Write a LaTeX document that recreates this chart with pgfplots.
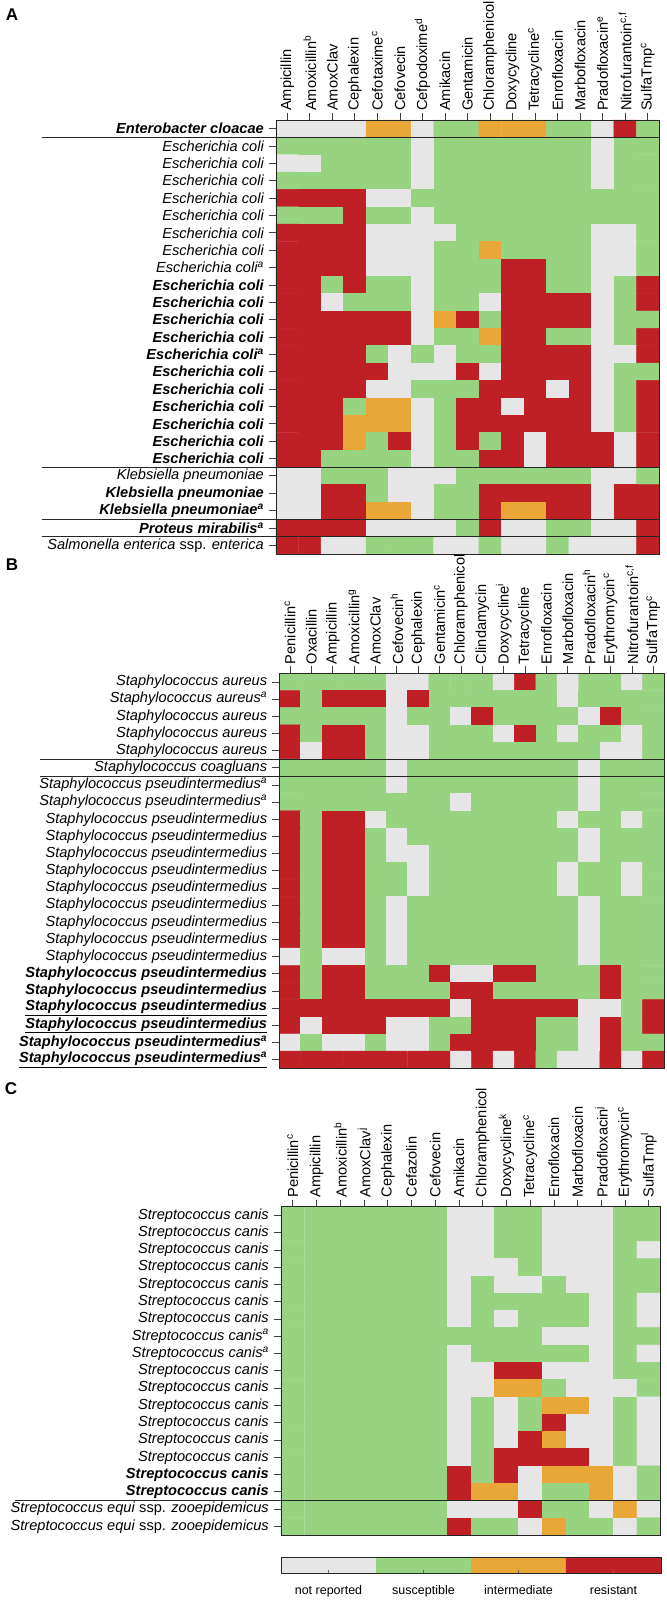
\documentclass[border=0pt]{standalone}
\usepackage{fontspec}
\setmainfont{Liberation Sans}
\usepackage{pgfplots}
\pgfplotsset{compat=1.18}
\newcommand{\Ec}{Escherichia coli}
\newcommand{\Kp}{Klebsiella pneumoniae}
\newcommand{\Sa}{Staphylococcus aureus}
\newcommand{\Sp}{Staphylococcus pseudintermedius}
\newcommand{\Sc}{Streptococcus canis}
\newcommand{\Se}{Streptococcus equi \textup{ssp.} zooepidemicus}
\newcommand{\sps}[1]{\textsuperscript{#1}}
\pgfplotsset{
  colormap={rsi}{rgb255(0cm)=(230,230,230) rgb255(1cm)=(152,211,130) rgb255(2cm)=(233,168,56) rgb255(3cm)=(190,32,38)},
  heat/.style={
    scale only axis, axis on top, enlargelimits=false, y dir=reverse, clip=false,
    anchor=north west,
    point meta min=0, point meta max=3, colormap name=rsi,
    xtick pos=right, xticklabel pos=right, ytick pos=left, yticklabel pos=left,
    tick align=outside,
    major tick length=7bp,
    tick style={line width=0.8bp, black!75},
    axis line style={line width=0.8bp, black!85},
    xticklabel style={rotate=90, anchor=west, font=\fontsize{14.6bp}{16bp}\selectfont, inner sep=1bp},
    yticklabel style={font=\fontsize{14.6bp}{16bp}\selectfont\itshape, inner sep=1bp},
    xticklabel shift=1bp, yticklabel shift=4bp,
  },
  sep/.style={forget plot, line width=0.8bp, black!85},
}
\begin{document}
\begin{tikzpicture}
\path[use as bounding box] (0,0) rectangle (667bp,-1600bp);
\node[font=\fontsize{17bp}{17bp}\selectfont\bfseries] at (12bp,-15bp) {A};
\node[font=\fontsize{17bp}{17bp}\selectfont\bfseries] at (12bp,-565bp) {B};
\node[font=\fontsize{17bp}{17bp}\selectfont\bfseries] at (11bp,-1089bp) {C};

% ---------------- Panel A ----------------
\begin{axis}[heat, at={(276bp,-120bp)}, width=383bp, height=434bp,
  xmin=-0.5, xmax=16.5, ymin=-0.5, ymax=24.5,
  xtick={0,...,16}, ytick={0,...,24},
  xticklabels={Ampicillin, Amoxicillin\sps{b}, AmoxClav, Cephalexin, Cefotaxime\sps{c}, Cefovecin, Cefpodoxime\sps{d}, Amikacin, Gentamicin, Chloramphenicol, Doxycycline, Tetracycline\sps{c}, Enrofloxacin, Marbofloxacin, Pradofloxacin\sps{e}, {Nitrofurantoin\sps{c,f}}, SulfaTmp\sps{c}},
  yticklabels={\textbf{Enterobacter cloacae}, \Ec, \Ec, \Ec, \Ec, \Ec, \Ec, \Ec, \Ec\sps{a}, \textbf{\Ec}, \textbf{\Ec}, \textbf{\Ec}, \textbf{\Ec}, \textbf{\Ec\sps{a}}, \textbf{\Ec}, \textbf{\Ec}, \textbf{\Ec}, \textbf{\Ec}, \textbf{\Ec}, \textbf{\Ec}, \Kp, \textbf{\Kp}, \textbf{\Kp\sps{a}}, \textbf{Proteus mirabilis\sps{a}}, Salmonella enterica \textup{ssp.} enterica},
]
\addplot[matrix plot*, mesh/cols=17, mesh/rows=25, point meta=explicit] coordinates {
(0,0) [0] (1,0) [0] (2,0) [0] (3,0) [0] (4,0) [2] (5,0) [2] (6,0) [0] (7,0) [1] (8,0) [1] (9,0) [2] (10,0) [2] (11,0) [2] (12,0) [1] (13,0) [1] (14,0) [0] (15,0) [3] (16,0) [1]
(0,1) [1] (1,1) [1] (2,1) [1] (3,1) [1] (4,1) [1] (5,1) [1] (6,1) [0] (7,1) [1] (8,1) [1] (9,1) [1] (10,1) [1] (11,1) [1] (12,1) [1] (13,1) [1] (14,1) [0] (15,1) [1] (16,1) [1]
(0,2) [0] (1,2) [0] (2,2) [1] (3,2) [1] (4,2) [1] (5,2) [1] (6,2) [0] (7,2) [1] (8,2) [1] (9,2) [1] (10,2) [1] (11,2) [1] (12,2) [1] (13,2) [1] (14,2) [0] (15,2) [1] (16,2) [1]
(0,3) [1] (1,3) [1] (2,3) [1] (3,3) [1] (4,3) [1] (5,3) [1] (6,3) [0] (7,3) [1] (8,3) [1] (9,3) [1] (10,3) [1] (11,3) [1] (12,3) [1] (13,3) [1] (14,3) [0] (15,3) [1] (16,3) [1]
(0,4) [3] (1,4) [3] (2,4) [3] (3,4) [3] (4,4) [0] (5,4) [0] (6,4) [1] (7,4) [1] (8,4) [1] (9,4) [1] (10,4) [1] (11,4) [1] (12,4) [1] (13,4) [1] (14,4) [1] (15,4) [1] (16,4) [1]
(0,5) [1] (1,5) [1] (2,5) [1] (3,5) [3] (4,5) [1] (5,5) [1] (6,5) [0] (7,5) [1] (8,5) [1] (9,5) [1] (10,5) [1] (11,5) [1] (12,5) [1] (13,5) [1] (14,5) [1] (15,5) [1] (16,5) [1]
(0,6) [3] (1,6) [3] (2,6) [3] (3,6) [3] (4,6) [0] (5,6) [0] (6,6) [0] (7,6) [0] (8,6) [1] (9,6) [1] (10,6) [1] (11,6) [1] (12,6) [1] (13,6) [1] (14,6) [0] (15,6) [0] (16,6) [1]
(0,7) [3] (1,7) [3] (2,7) [3] (3,7) [3] (4,7) [0] (5,7) [0] (6,7) [0] (7,7) [1] (8,7) [1] (9,7) [2] (10,7) [1] (11,7) [1] (12,7) [1] (13,7) [1] (14,7) [0] (15,7) [0] (16,7) [1]
(0,8) [3] (1,8) [3] (2,8) [3] (3,8) [3] (4,8) [0] (5,8) [0] (6,8) [0] (7,8) [1] (8,8) [1] (9,8) [1] (10,8) [3] (11,8) [3] (12,8) [1] (13,8) [1] (14,8) [0] (15,8) [0] (16,8) [1]
(0,9) [3] (1,9) [3] (2,9) [1] (3,9) [3] (4,9) [1] (5,9) [1] (6,9) [0] (7,9) [1] (8,9) [1] (9,9) [1] (10,9) [3] (11,9) [3] (12,9) [1] (13,9) [1] (14,9) [0] (15,9) [1] (16,9) [3]
(0,10) [3] (1,10) [3] (2,10) [0] (3,10) [1] (4,10) [1] (5,10) [1] (6,10) [0] (7,10) [1] (8,10) [1] (9,10) [0] (10,10) [3] (11,10) [3] (12,10) [3] (13,10) [3] (14,10) [0] (15,10) [1] (16,10) [3]
(0,11) [3] (1,11) [3] (2,11) [3] (3,11) [3] (4,11) [3] (5,11) [3] (6,11) [0] (7,11) [2] (8,11) [3] (9,11) [1] (10,11) [3] (11,11) [3] (12,11) [3] (13,11) [3] (14,11) [0] (15,11) [1] (16,11) [1]
(0,12) [3] (1,12) [3] (2,12) [3] (3,12) [3] (4,12) [3] (5,12) [3] (6,12) [0] (7,12) [1] (8,12) [1] (9,12) [2] (10,12) [3] (11,12) [3] (12,12) [1] (13,12) [1] (14,12) [0] (15,12) [1] (16,12) [3]
(0,13) [3] (1,13) [3] (2,13) [3] (3,13) [3] (4,13) [1] (5,13) [0] (6,13) [1] (7,13) [0] (8,13) [1] (9,13) [1] (10,13) [3] (11,13) [3] (12,13) [3] (13,13) [3] (14,13) [0] (15,13) [0] (16,13) [3]
(0,14) [3] (1,14) [3] (2,14) [3] (3,14) [3] (4,14) [3] (5,14) [0] (6,14) [0] (7,14) [0] (8,14) [3] (9,14) [0] (10,14) [3] (11,14) [3] (12,14) [3] (13,14) [3] (14,14) [0] (15,14) [1] (16,14) [1]
(0,15) [3] (1,15) [3] (2,15) [3] (3,15) [3] (4,15) [0] (5,15) [0] (6,15) [1] (7,15) [1] (8,15) [1] (9,15) [3] (10,15) [3] (11,15) [3] (12,15) [0] (13,15) [3] (14,15) [0] (15,15) [1] (16,15) [3]
(0,16) [3] (1,16) [3] (2,16) [3] (3,16) [1] (4,16) [2] (5,16) [2] (6,16) [0] (7,16) [1] (8,16) [3] (9,16) [3] (10,16) [0] (11,16) [3] (12,16) [3] (13,16) [3] (14,16) [0] (15,16) [1] (16,16) [3]
(0,17) [3] (1,17) [3] (2,17) [3] (3,17) [2] (4,17) [2] (5,17) [2] (6,17) [0] (7,17) [1] (8,17) [3] (9,17) [3] (10,17) [3] (11,17) [3] (12,17) [3] (13,17) [3] (14,17) [0] (15,17) [1] (16,17) [3]
(0,18) [3] (1,18) [3] (2,18) [3] (3,18) [2] (4,18) [1] (5,18) [3] (6,18) [0] (7,18) [1] (8,18) [3] (9,18) [1] (10,18) [3] (11,18) [0] (12,18) [3] (13,18) [3] (14,18) [3] (15,18) [0] (16,18) [3]
(0,19) [3] (1,19) [3] (2,19) [1] (3,19) [1] (4,19) [1] (5,19) [1] (6,19) [0] (7,19) [1] (8,19) [1] (9,19) [3] (10,19) [3] (11,19) [0] (12,19) [3] (13,19) [3] (14,19) [3] (15,19) [0] (16,19) [3]
(0,20) [0] (1,20) [0] (2,20) [1] (3,20) [1] (4,20) [1] (5,20) [0] (6,20) [0] (7,20) [0] (8,20) [1] (9,20) [1] (10,20) [1] (11,20) [1] (12,20) [1] (13,20) [1] (14,20) [0] (15,20) [0] (16,20) [1]
(0,21) [0] (1,21) [0] (2,21) [3] (3,21) [3] (4,21) [1] (5,21) [0] (6,21) [0] (7,21) [1] (8,21) [1] (9,21) [3] (10,21) [3] (11,21) [3] (12,21) [3] (13,21) [3] (14,21) [0] (15,21) [3] (16,21) [3]
(0,22) [0] (1,22) [0] (2,22) [3] (3,22) [3] (4,22) [2] (5,22) [2] (6,22) [0] (7,22) [1] (8,22) [1] (9,22) [3] (10,22) [2] (11,22) [2] (12,22) [3] (13,22) [3] (14,22) [0] (15,22) [3] (16,22) [3]
(0,23) [3] (1,23) [3] (2,23) [3] (3,23) [3] (4,23) [0] (5,23) [0] (6,23) [0] (7,23) [0] (8,23) [1] (9,23) [3] (10,23) [0] (11,23) [0] (12,23) [1] (13,23) [1] (14,23) [0] (15,23) [0] (16,23) [3]
(0,24) [3] (1,24) [3] (2,24) [0] (3,24) [0] (4,24) [1] (5,24) [1] (6,24) [1] (7,24) [0] (8,24) [0] (9,24) [1] (10,24) [0] (11,24) [0] (12,24) [1] (13,24) [0] (14,24) [0] (15,24) [0] (16,24) [3]
};
\addplot[sep] coordinates {(-10.9,0.5) (16.5,0.5)};
\addplot[sep] coordinates {(-10.9,19.5) (16.5,19.5)};
\addplot[sep] coordinates {(-10.9,22.5) (16.5,22.5)};
\addplot[sep] coordinates {(-10.9,23.5) (16.5,23.5)};
\end{axis}

% ---------------- Panel B ----------------
\begin{axis}[heat, at={(279.3bp,-673.3bp)}, width=384.7bp, height=395bp,
  xmin=-0.5, xmax=17.5, ymin=-0.5, ymax=22.5,
  xtick={0,...,17}, ytick={0,...,22},
  xticklabels={Penicillin\sps{c}, Oxacillin, Ampicillin, Amoxicillin\sps{g}, AmoxClav, Cefovecin\sps{h}, Cephalexin, Gentamicin\sps{c}, Chloramphenicol, Clindamycin, Doxycycline\sps{i}, Tetracycline, Enrofloxacin, Marbofloxacin, Pradofloxacin\sps{h}, Erythromycin\sps{c}, {Nitrofurantoin\sps{c,f}}, SulfaTmp\sps{c}},
  yticklabels={\Sa, \Sa\sps{a}, \Sa, \Sa, \Sa, Staphylococcus coagluans, \Sp\sps{a}, \Sp\sps{a}, \Sp, \Sp, \Sp, \Sp, \Sp, \Sp, \Sp, \Sp, \Sp, \textbf{\Sp}, \textbf{\Sp}, \textbf{\underline{\Sp}}, \textbf{\underline{\Sp}}, \textbf{\Sp\sps{a}}, \textbf{\underline{\Sp\sps{a}}}},
]
\addplot[matrix plot*, mesh/cols=18, mesh/rows=23, point meta=explicit] coordinates {
(0,0) [1] (1,0) [1] (2,0) [1] (3,0) [1] (4,0) [1] (5,0) [0] (6,0) [0] (7,0) [1] (8,0) [1] (9,0) [1] (10,0) [0] (11,0) [3] (12,0) [1] (13,0) [0] (14,0) [1] (15,0) [1] (16,0) [0] (17,0) [1]
(0,1) [3] (1,1) [1] (2,1) [3] (3,1) [3] (4,1) [3] (5,1) [0] (6,1) [3] (7,1) [1] (8,1) [1] (9,1) [1] (10,1) [1] (11,1) [1] (12,1) [1] (13,1) [0] (14,1) [1] (15,1) [1] (16,1) [1] (17,1) [1]
(0,2) [1] (1,2) [1] (2,2) [1] (3,2) [1] (4,2) [1] (5,2) [0] (6,2) [1] (7,2) [1] (8,2) [0] (9,2) [3] (10,2) [1] (11,2) [1] (12,2) [1] (13,2) [1] (14,2) [0] (15,2) [3] (16,2) [1] (17,2) [1]
(0,3) [3] (1,3) [1] (2,3) [3] (3,3) [3] (4,3) [1] (5,3) [0] (6,3) [0] (7,3) [1] (8,3) [1] (9,3) [1] (10,3) [0] (11,3) [3] (12,3) [1] (13,3) [0] (14,3) [1] (15,3) [1] (16,3) [0] (17,3) [1]
(0,4) [3] (1,4) [0] (2,4) [3] (3,4) [3] (4,4) [1] (5,4) [0] (6,4) [0] (7,4) [1] (8,4) [1] (9,4) [1] (10,4) [1] (11,4) [1] (12,4) [1] (13,4) [1] (14,4) [1] (15,4) [0] (16,4) [0] (17,4) [1]
(0,5) [1] (1,5) [1] (2,5) [1] (3,5) [1] (4,5) [1] (5,5) [0] (6,5) [1] (7,5) [1] (8,5) [1] (9,5) [1] (10,5) [1] (11,5) [1] (12,5) [1] (13,5) [1] (14,5) [0] (15,5) [1] (16,5) [1] (17,5) [1]
(0,6) [1] (1,6) [1] (2,6) [1] (3,6) [1] (4,6) [1] (5,6) [0] (6,6) [1] (7,6) [1] (8,6) [1] (9,6) [1] (10,6) [1] (11,6) [1] (12,6) [1] (13,6) [1] (14,6) [0] (15,6) [1] (16,6) [1] (17,6) [1]
(0,7) [1] (1,7) [1] (2,7) [1] (3,7) [1] (4,7) [1] (5,7) [1] (6,7) [1] (7,7) [1] (8,7) [0] (9,7) [1] (10,7) [1] (11,7) [1] (12,7) [1] (13,7) [1] (14,7) [0] (15,7) [1] (16,7) [1] (17,7) [1]
(0,8) [3] (1,8) [1] (2,8) [3] (3,8) [3] (4,8) [0] (5,8) [1] (6,8) [1] (7,8) [1] (8,8) [1] (9,8) [1] (10,8) [1] (11,8) [1] (12,8) [1] (13,8) [0] (14,8) [1] (15,8) [1] (16,8) [0] (17,8) [1]
(0,9) [3] (1,9) [1] (2,9) [3] (3,9) [3] (4,9) [1] (5,9) [0] (6,9) [1] (7,9) [1] (8,9) [1] (9,9) [1] (10,9) [1] (11,9) [1] (12,9) [1] (13,9) [1] (14,9) [0] (15,9) [1] (16,9) [1] (17,9) [1]
(0,10) [3] (1,10) [1] (2,10) [3] (3,10) [3] (4,10) [1] (5,10) [0] (6,10) [0] (7,10) [1] (8,10) [1] (9,10) [1] (10,10) [1] (11,10) [1] (12,10) [1] (13,10) [1] (14,10) [0] (15,10) [1] (16,10) [1] (17,10) [1]
(0,11) [3] (1,11) [1] (2,11) [3] (3,11) [3] (4,11) [1] (5,11) [1] (6,11) [0] (7,11) [1] (8,11) [1] (9,11) [1] (10,11) [1] (11,11) [1] (12,11) [1] (13,11) [0] (14,11) [1] (15,11) [1] (16,11) [0] (17,11) [1]
(0,12) [3] (1,12) [1] (2,12) [3] (3,12) [3] (4,12) [1] (5,12) [1] (6,12) [0] (7,12) [1] (8,12) [1] (9,12) [1] (10,12) [1] (11,12) [1] (12,12) [1] (13,12) [0] (14,12) [1] (15,12) [1] (16,12) [0] (17,12) [1]
(0,13) [3] (1,13) [1] (2,13) [3] (3,13) [3] (4,13) [1] (5,13) [0] (6,13) [1] (7,13) [1] (8,13) [1] (9,13) [1] (10,13) [1] (11,13) [1] (12,13) [1] (13,13) [1] (14,13) [0] (15,13) [1] (16,13) [1] (17,13) [1]
(0,14) [3] (1,14) [1] (2,14) [3] (3,14) [3] (4,14) [1] (5,14) [0] (6,14) [1] (7,14) [1] (8,14) [1] (9,14) [1] (10,14) [1] (11,14) [1] (12,14) [1] (13,14) [1] (14,14) [0] (15,14) [1] (16,14) [1] (17,14) [1]
(0,15) [3] (1,15) [1] (2,15) [3] (3,15) [3] (4,15) [1] (5,15) [0] (6,15) [1] (7,15) [1] (8,15) [1] (9,15) [1] (10,15) [1] (11,15) [1] (12,15) [1] (13,15) [1] (14,15) [0] (15,15) [1] (16,15) [1] (17,15) [1]
(0,16) [0] (1,16) [1] (2,16) [0] (3,16) [0] (4,16) [1] (5,16) [0] (6,16) [1] (7,16) [1] (8,16) [1] (9,16) [1] (10,16) [1] (11,16) [1] (12,16) [1] (13,16) [1] (14,16) [0] (15,16) [1] (16,16) [1] (17,16) [1]
(0,17) [3] (1,17) [1] (2,17) [3] (3,17) [3] (4,17) [1] (5,17) [1] (6,17) [1] (7,17) [3] (8,17) [0] (9,17) [0] (10,17) [3] (11,17) [3] (12,17) [1] (13,17) [1] (14,17) [1] (15,17) [3] (16,17) [1] (17,17) [1]
(0,18) [3] (1,18) [1] (2,18) [3] (3,18) [3] (4,18) [1] (5,18) [1] (6,18) [1] (7,18) [1] (8,18) [3] (9,18) [3] (10,18) [1] (11,18) [1] (12,18) [1] (13,18) [1] (14,18) [1] (15,18) [3] (16,18) [1] (17,18) [1]
(0,19) [3] (1,19) [3] (2,19) [3] (3,19) [3] (4,19) [3] (5,19) [3] (6,19) [3] (7,19) [3] (8,19) [0] (9,19) [3] (10,19) [3] (11,19) [3] (12,19) [3] (13,19) [3] (14,19) [0] (15,19) [0] (16,19) [1] (17,19) [3]
(0,20) [3] (1,20) [0] (2,20) [3] (3,20) [3] (4,20) [3] (5,20) [0] (6,20) [0] (7,20) [1] (8,20) [1] (9,20) [3] (10,20) [3] (11,20) [3] (12,20) [1] (13,20) [1] (14,20) [0] (15,20) [3] (16,20) [1] (17,20) [3]
(0,21) [0] (1,21) [1] (2,21) [0] (3,21) [0] (4,21) [1] (5,21) [0] (6,21) [0] (7,21) [1] (8,21) [3] (9,21) [3] (10,21) [3] (11,21) [3] (12,21) [1] (13,21) [1] (14,21) [0] (15,21) [3] (16,21) [1] (17,21) [1]
(0,22) [3] (1,22) [3] (2,22) [3] (3,22) [3] (4,22) [3] (5,22) [3] (6,22) [3] (7,22) [3] (8,22) [0] (9,22) [3] (10,22) [0] (11,22) [3] (12,22) [1] (13,22) [0] (14,22) [0] (15,22) [3] (16,22) [0] (17,22) [3]
};
\addplot[sep] coordinates {(-11.7,4.5) (17.5,4.5)};
\addplot[sep] coordinates {(-11.7,5.5) (17.5,5.5)};
\end{axis}

% ---------------- Panel C ----------------
\begin{axis}[heat, at={(281bp,-1206.7bp)}, width=379.7bp, height=328.3bp,
  xmin=-0.5, xmax=15.5, ymin=-0.5, ymax=18.5,
  xtick={0,...,15}, ytick={0,...,18},
  xticklabels={Penicillin\sps{c}, Ampicillin, Amoxicillin\sps{b}, AmoxClav\sps{j}, Cephalexin, Cefazolin, Cefovecin, Amikacin, Chloramphenicol, Doxycycline\sps{k}, Tetracycline\sps{c}, Enrofloxacin, Marbofloxacin, Pradofloxacin\sps{j}, Erythromycin\sps{c}, SulfaTmp\sps{l}},
  yticklabels={\Sc, \Sc, \Sc, \Sc, \Sc, \Sc, \Sc, \Sc\sps{a}, \Sc\sps{a}, \Sc, \Sc, \Sc, \Sc, \Sc, \Sc, \textbf{\Sc}, \textbf{\Sc}, \Se, \Se},
]
\addplot[matrix plot*, mesh/cols=16, mesh/rows=19, point meta=explicit] coordinates {
(0,0) [1] (1,0) [1] (2,0) [1] (3,0) [1] (4,0) [1] (5,0) [1] (6,0) [1] (7,0) [0] (8,0) [0] (9,0) [1] (10,0) [1] (11,0) [0] (12,0) [0] (13,0) [0] (14,0) [1] (15,0) [1]
(0,1) [1] (1,1) [1] (2,1) [1] (3,1) [1] (4,1) [1] (5,1) [1] (6,1) [1] (7,1) [0] (8,1) [0] (9,1) [1] (10,1) [1] (11,1) [0] (12,1) [0] (13,1) [0] (14,1) [1] (15,1) [1]
(0,2) [1] (1,2) [1] (2,2) [1] (3,2) [1] (4,2) [1] (5,2) [1] (6,2) [1] (7,2) [0] (8,2) [0] (9,2) [1] (10,2) [1] (11,2) [0] (12,2) [0] (13,2) [0] (14,2) [1] (15,2) [0]
(0,3) [1] (1,3) [1] (2,3) [1] (3,3) [1] (4,3) [1] (5,3) [1] (6,3) [1] (7,3) [0] (8,3) [0] (9,3) [0] (10,3) [1] (11,3) [0] (12,3) [0] (13,3) [0] (14,3) [1] (15,3) [1]
(0,4) [1] (1,4) [1] (2,4) [1] (3,4) [1] (4,4) [1] (5,4) [1] (6,4) [1] (7,4) [0] (8,4) [1] (9,4) [0] (10,4) [0] (11,4) [1] (12,4) [0] (13,4) [0] (14,4) [1] (15,4) [1]
(0,5) [1] (1,5) [1] (2,5) [1] (3,5) [1] (4,5) [1] (5,5) [1] (6,5) [1] (7,5) [0] (8,5) [1] (9,5) [1] (10,5) [1] (11,5) [1] (12,5) [1] (13,5) [0] (14,5) [1] (15,5) [0]
(0,6) [1] (1,6) [1] (2,6) [1] (3,6) [1] (4,6) [1] (5,6) [1] (6,6) [1] (7,6) [0] (8,6) [1] (9,6) [0] (10,6) [1] (11,6) [1] (12,6) [1] (13,6) [0] (14,6) [1] (15,6) [0]
(0,7) [1] (1,7) [1] (2,7) [1] (3,7) [1] (4,7) [1] (5,7) [1] (6,7) [1] (7,7) [1] (8,7) [1] (9,7) [1] (10,7) [1] (11,7) [0] (12,7) [0] (13,7) [0] (14,7) [1] (15,7) [1]
(0,8) [1] (1,8) [1] (2,8) [1] (3,8) [1] (4,8) [1] (5,8) [1] (6,8) [1] (7,8) [0] (8,8) [1] (9,8) [1] (10,8) [1] (11,8) [1] (12,8) [1] (13,8) [0] (14,8) [1] (15,8) [0]
(0,9) [1] (1,9) [1] (2,9) [1] (3,9) [1] (4,9) [1] (5,9) [1] (6,9) [1] (7,9) [0] (8,9) [0] (9,9) [3] (10,9) [3] (11,9) [0] (12,9) [0] (13,9) [0] (14,9) [1] (15,9) [1]
(0,10) [1] (1,10) [1] (2,10) [1] (3,10) [1] (4,10) [1] (5,10) [1] (6,10) [1] (7,10) [0] (8,10) [0] (9,10) [2] (10,10) [2] (11,10) [1] (12,10) [0] (13,10) [0] (14,10) [0] (15,10) [1]
(0,11) [1] (1,11) [1] (2,11) [1] (3,11) [1] (4,11) [1] (5,11) [1] (6,11) [1] (7,11) [0] (8,11) [1] (9,11) [0] (10,11) [1] (11,11) [2] (12,11) [2] (13,11) [0] (14,11) [1] (15,11) [0]
(0,12) [1] (1,12) [1] (2,12) [1] (3,12) [1] (4,12) [1] (5,12) [1] (6,12) [1] (7,12) [0] (8,12) [1] (9,12) [0] (10,12) [1] (11,12) [3] (12,12) [0] (13,12) [0] (14,12) [1] (15,12) [0]
(0,13) [1] (1,13) [1] (2,13) [1] (3,13) [1] (4,13) [1] (5,13) [1] (6,13) [1] (7,13) [0] (8,13) [1] (9,13) [0] (10,13) [3] (11,13) [2] (12,13) [0] (13,13) [0] (14,13) [1] (15,13) [0]
(0,14) [1] (1,14) [1] (2,14) [1] (3,14) [1] (4,14) [1] (5,14) [1] (6,14) [1] (7,14) [0] (8,14) [1] (9,14) [3] (10,14) [3] (11,14) [3] (12,14) [3] (13,14) [0] (14,14) [1] (15,14) [0]
(0,15) [1] (1,15) [1] (2,15) [1] (3,15) [1] (4,15) [1] (5,15) [1] (6,15) [1] (7,15) [3] (8,15) [1] (9,15) [3] (10,15) [0] (11,15) [2] (12,15) [2] (13,15) [2] (14,15) [0] (15,15) [1]
(0,16) [1] (1,16) [1] (2,16) [1] (3,16) [1] (4,16) [1] (5,16) [1] (6,16) [1] (7,16) [3] (8,16) [2] (9,16) [2] (10,16) [0] (11,16) [1] (12,16) [1] (13,16) [2] (14,16) [0] (15,16) [1]
(0,17) [1] (1,17) [1] (2,17) [1] (3,17) [1] (4,17) [1] (5,17) [1] (6,17) [1] (7,17) [0] (8,17) [0] (9,17) [0] (10,17) [3] (11,17) [1] (12,17) [1] (13,17) [0] (14,17) [2] (15,17) [0]
(0,18) [1] (1,18) [1] (2,18) [1] (3,18) [1] (4,18) [1] (5,18) [1] (6,18) [1] (7,18) [3] (8,18) [1] (9,18) [1] (10,18) [0] (11,18) [2] (12,18) [1] (13,18) [1] (14,18) [0] (15,18) [1]
};
\addplot[sep] coordinates {(-11.7,16.5) (15.5,16.5)};
\end{axis}

% ---------------- Legend ----------------
\begin{axis}[at={(281bp,-1557bp)}, anchor=north west, scale only axis, width=380bp, height=16bp,
  enlargelimits=false, axis on top, xmin=-0.5, xmax=3.5, ymin=-0.5, ymax=1.5,
  point meta min=0, point meta max=3, colormap name=rsi,
  xtick={0,1,2,3}, xticklabels={not reported, susceptible, intermediate, resistant},
  ytick=\empty, xtick pos=left, tick align=inside, major tick length=3.5bp,
  tick style={line width=0.8bp, black!60},
  axis line style={line width=0.8bp, black!85},
  xticklabel style={font=\fontsize{12.5bp}{14bp}\selectfont},
  xticklabel shift=9bp,
]
\addplot[matrix plot*, mesh/cols=4, mesh/rows=2, point meta=explicit] coordinates {
(0,0) [0] (1,0) [1] (2,0) [2] (3,0) [3]
(0,1) [0] (1,1) [1] (2,1) [2] (3,1) [3]
};
\end{axis}
\end{tikzpicture}
\end{document}
